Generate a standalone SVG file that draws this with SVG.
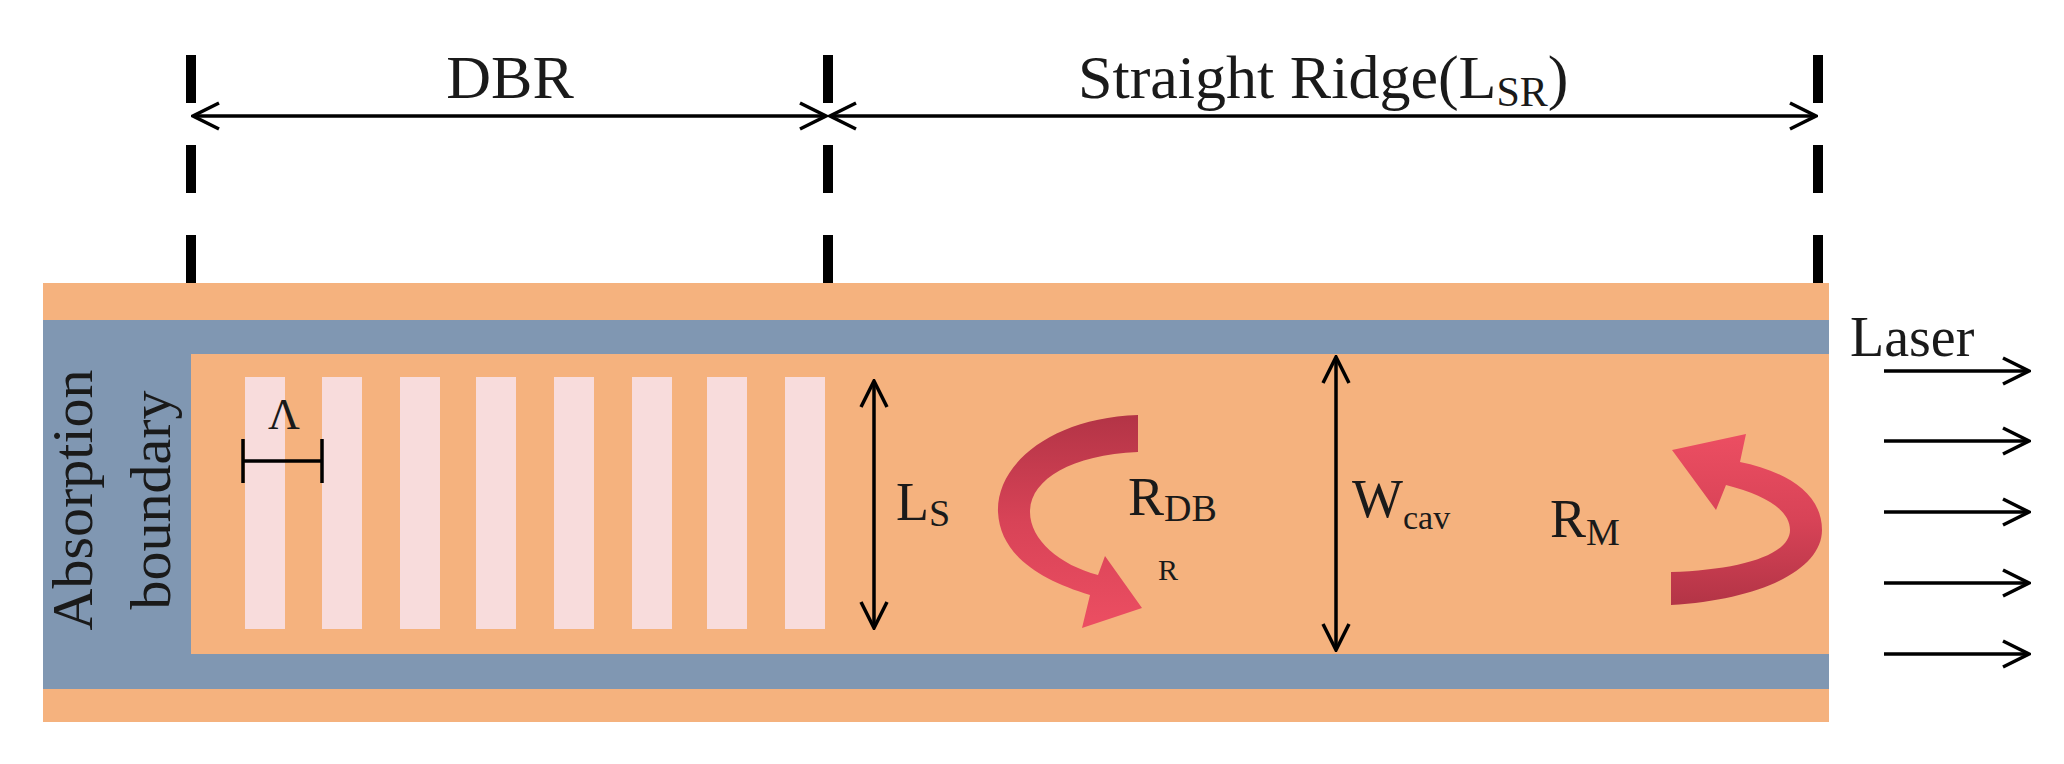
<svg xmlns="http://www.w3.org/2000/svg" width="2064" height="764" viewBox="0 0 2064 764">
<defs>
<style>
.t{font-family:"Liberation Serif",serif;fill:#1a1a1a}
.dash{stroke:#000;stroke-width:10;stroke-dasharray:48,42}
.ln{stroke:#000;stroke-width:3.5;fill:none}
.st{fill:#F8DCDC}
</style>
<marker id="ah" viewBox="0 0 30 30" refX="28" refY="15" markerWidth="30" markerHeight="30" markerUnits="userSpaceOnUse" orient="auto-start-reverse"><path d="M2,2 L28,15 L2,28" fill="none" stroke="#000" stroke-width="3.5"/></marker>
<linearGradient id="gl" x1="0" y1="0" x2="0" y2="1"><stop offset="0" stop-color="#B33446"/><stop offset="0.5" stop-color="#D84357"/><stop offset="1" stop-color="#EC4E62"/></linearGradient>
<linearGradient id="gr" x1="0" y1="0" x2="0" y2="1"><stop offset="0" stop-color="#EC4E62"/><stop offset="0.5" stop-color="#D84357"/><stop offset="1" stop-color="#B33446"/></linearGradient>
</defs>
<rect width="2064" height="764" fill="#fff"/>
<g id="waveguide">
<rect x="43" y="283" width="1786" height="439" fill="#F5B27E"/>
<rect x="43" y="320" width="1786" height="34" fill="#8097B2"/>
<rect x="43" y="654" width="1786" height="35" fill="#8097B2"/>
<rect x="43" y="320" width="148" height="369" fill="#8097B2"/>
</g>
<g id="grating">
<rect class="st" x="245" y="377" width="40" height="252"/>
<rect class="st" x="322" y="377" width="40" height="252"/>
<rect class="st" x="400" y="377" width="40" height="252"/>
<rect class="st" x="476" y="377" width="40" height="252"/>
<rect class="st" x="554" y="377" width="40" height="252"/>
<rect class="st" x="632" y="377" width="40" height="252"/>
<rect class="st" x="707" y="377" width="40" height="252"/>
<rect class="st" x="785" y="377" width="40" height="252"/>
</g>
<g id="absorption">
<text class="t" font-size="58" text-anchor="middle" transform="translate(92,500) rotate(-90)">Absorption</text>
<text class="t" font-size="58" text-anchor="middle" transform="translate(170,500) rotate(-90)">boundary</text>
</g>
<g id="connectors">
<line class="dash" x1="191" y1="55" x2="191" y2="283"/>
<line class="dash" x1="828" y1="55" x2="828" y2="283"/>
<line class="dash" x1="1818" y1="55" x2="1818" y2="283"/>
<line class="ln" x1="193" y1="116" x2="826" y2="116" marker-start="url(#ah)" marker-end="url(#ah)"/>
<line class="ln" x1="830" y1="116" x2="1816" y2="116" marker-start="url(#ah)" marker-end="url(#ah)"/>
<line class="ln" x1="874" y1="381" x2="874" y2="628" marker-start="url(#ah)" marker-end="url(#ah)"/>
<line class="ln" x1="1336" y1="357" x2="1336" y2="650" marker-start="url(#ah)" marker-end="url(#ah)"/>
<path class="ln" d="M243,461 H322 M243,439 V483 M322,439 V483"/>
<line class="ln" x1="1884" y1="371" x2="2029" y2="371" marker-end="url(#ah)"/>
<line class="ln" x1="1884" y1="441" x2="2029" y2="441" marker-end="url(#ah)"/>
<line class="ln" x1="1884" y1="512" x2="2029" y2="512" marker-end="url(#ah)"/>
<line class="ln" x1="1884" y1="583" x2="2029" y2="583" marker-end="url(#ah)"/>
<line class="ln" x1="1884" y1="654" x2="2029" y2="654" marker-end="url(#ah)"/>
</g>
<g id="reflect-dbr">
<path fill="url(#gl)" d="M1138,415 C1050,418 996,465 998,512 C1000,555 1040,580 1090,595 L1082,628 L1142,608 L1105,556 L1098,575 C1060,565 1030,540 1030,512 C1030,480 1070,455 1138,452 Z"/>
</g>
<g id="reflect-m">
<path fill="url(#gr)" d="M1671,605 C1760,600 1822,570 1822,530 C1822,490 1780,470 1740,462 L1746,434 L1672,450 L1716,510 L1726,485 C1765,495 1790,510 1790,530 C1790,555 1740,570 1671,572 Z"/>
</g>
<g id="labels">
<text class="t" font-size="62" x="510" y="98" text-anchor="middle">DBR</text>
<text class="t" font-size="62" x="1078" y="98">Straight Ridge(L<tspan font-size="42" dy="8">SR</tspan><tspan dy="-8">)</tspan></text>
<text class="t" font-size="44" x="284" y="429" text-anchor="middle">Λ</text>
<text class="t" font-size="54" x="896" y="520">L<tspan font-size="38" dy="6">S</tspan></text>
<text class="t" font-size="54" x="1128" y="515">R<tspan font-size="38" dy="6">DB</tspan></text>
<text class="t" font-size="30" x="1168" y="580" text-anchor="middle">R</text>
<text class="t" font-size="54" x="1352" y="517">W<tspan font-size="34" dy="12">cav</tspan></text>
<text class="t" font-size="54" x="1550" y="537">R<tspan font-size="38" dy="8">M</tspan></text>
<text class="t" font-size="56" x="1850" y="356">Laser</text>
</g>
</svg>
